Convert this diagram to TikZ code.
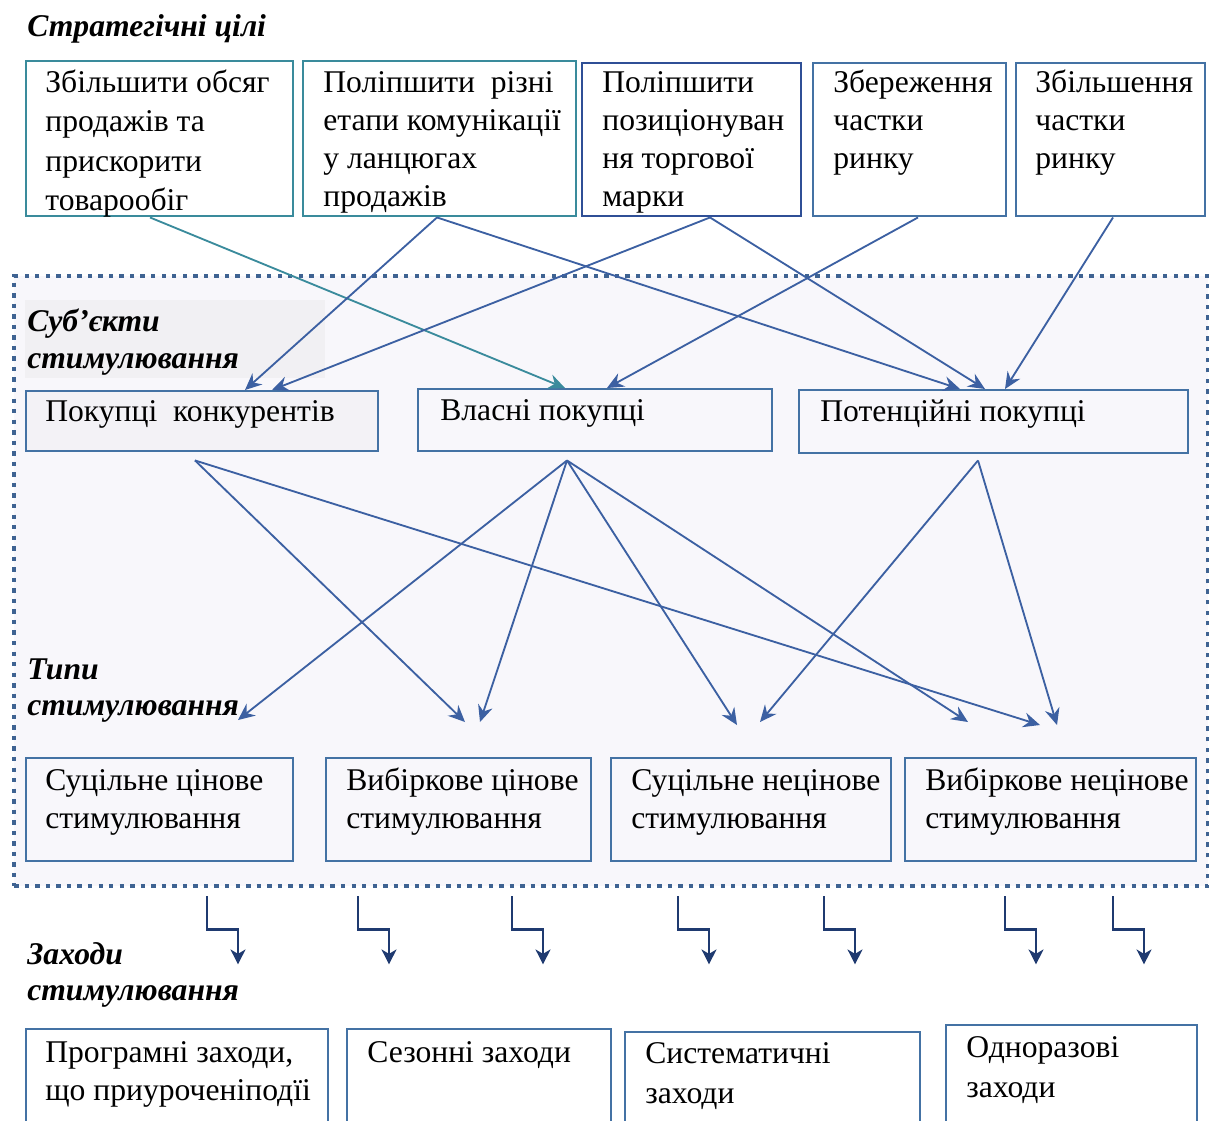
\documentclass[tikz,border=0pt]{standalone}
\usepackage{fontspec}
\setmainfont{Liberation Serif}
\usetikzlibrary{arrows.meta,calc}

\definecolor{tealline}{HTML}{3A8B9C}
\definecolor{darkline}{HTML}{2F4F96}
\definecolor{steelline}{HTML}{4472A4}
\definecolor{arrowblue}{HTML}{3C60A2}
\definecolor{navyline}{HTML}{1F3A70}
\definecolor{panelfill}{HTML}{F8F7FB}
\definecolor{dotline}{HTML}{3F6392}

\tikzset{
  box/.style={draw=steelline, line width=1.4pt, inner sep=0pt, anchor=north west},
  boxtext/.style={anchor=base west, align=left, inner sep=0pt},
  headtext/.style={anchor=base west, align=left, inner sep=0pt, font=\fontsize{18}{36pt}\selectfont\bfseries\itshape},
  link/.style={draw=arrowblue, line width=1.05pt, -{Stealth[length=9.5pt, width=8.5pt, inset=3.2pt]}},
  elbowlink/.style={draw=navyline, line width=1.3pt, -{Stealth[length=8.5pt, width=8.5pt, inset=2.5pt]}}
}

\begin{document}
\begin{tikzpicture}[x=0.02cm, y=-0.02cm, font=\fontsize{18}{21.5pt}\selectfont]
\useasboundingbox (0,0) rectangle (1209,1120);

% область стимулювання
\node[box, draw=dotline, fill=panelfill, line width=2.5pt, dash pattern=on 2.5pt off 3.5pt,
      minimum width=1194*0.02cm, minimum height=610*0.02cm] (zone) at (12,274) {};
\fill[fill=black!3!panelfill] (25,300) rectangle (325,378);

% стратегічні цілі
\node[headtext] (hgoal) at (27,36) {Стратегічні цілі};
\node[box, draw=tealline, minimum width=267*0.02cm, minimum height=155*0.02cm] (g1) at (25,60) {};
\node[box, draw=tealline, minimum width=273*0.02cm, minimum height=155*0.02cm] (g2) at (302,60) {};
\node[box, draw=darkline, minimum width=219*0.02cm, minimum height=153*0.02cm] (g3) at (581,62) {};
\node[box, minimum width=193*0.02cm, minimum height=153*0.02cm] (g4) at (812,62) {};
\node[box, minimum width=189*0.02cm, minimum height=153*0.02cm] (g5) at (1015,62) {};
% (base = остання лінія тексту)
\node[boxtext, font=\fontsize{18}{22.2pt}\selectfont] (g1t) at (45,210) {Збільшити обсяг\\продажів та\\прискорити\\товарообіг};
\node[boxtext] (g2t) at (323,206) {Поліпшити\ \ різні\\етапи комунікації\\у ланцюгах\\продажів};
\node[boxtext] (g3t) at (602,206) {Поліпшити\\позиціонуван\\ня торгової\\марки};
\node[boxtext] (g4t) at (833,168) {Збереження\\частки\\ринку};
\node[boxtext] (g5t) at (1035,168) {Збільшення\\частки\\ринку};

% суб'єкти стимулювання
\node[headtext, font=\fontsize{18}{20.5pt}\selectfont\bfseries\itshape] (hsubj) at (27,368) {Суб’єкти\\стимулювання};
\node[box, fill=black!2!panelfill, minimum width=352*0.02cm, minimum height=60*0.02cm] (s1) at (25,390) {};
\node[box, minimum width=354*0.02cm, minimum height=62*0.02cm] (s2) at (417,388) {};
\node[box, minimum width=389*0.02cm, minimum height=63*0.02cm] (s3) at (798,389) {};
\node[boxtext] (s1t) at (45,421) {Покупці\ \ конкурентів};
\node[boxtext] (s2t) at (440,420) {Власні покупці};
\node[boxtext] (s3t) at (820,421) {Потенційні покупці};

% типи стимулювання
\node[headtext, font=\fontsize{18}{20pt}\selectfont\bfseries\itshape] (htype) at (27,715) {Типи\\стимулювання};
\node[box, minimum width=267*0.02cm, minimum height=103*0.02cm] (t1) at (25,757) {};
\node[box, minimum width=265*0.02cm, minimum height=103*0.02cm] (t2) at (325,757) {};
\node[box, minimum width=280*0.02cm, minimum height=103*0.02cm] (t3) at (610,757) {};
\node[box, minimum width=291*0.02cm, minimum height=103*0.02cm] (t4) at (904,757) {};
\node[boxtext] (t1t) at (45,828) {Суцільне цінове\\стимулювання};
\node[boxtext] (t2t) at (346,828) {Вибіркове цінове\\стимулювання};
\node[boxtext] (t3t) at (631,828) {Суцільне нецінове\\стимулювання};
\node[boxtext] (t4t) at (925,828) {Вибіркове нецінове\\стимулювання};

% заходи стимулювання
\node[headtext, font=\fontsize{18}{20pt}\selectfont\bfseries\itshape] (hmeas) at (27,1000) {Заходи\\стимулювання};
\node[box, minimum width=302*0.02cm, minimum height=120*0.02cm] (b1) at (25,1028) {};
\node[box, minimum width=264*0.02cm, minimum height=120*0.02cm] (b2) at (346,1028) {};
\node[box, minimum width=295*0.02cm, minimum height=120*0.02cm] (b3) at (624,1031) {};
\node[box, minimum width=251*0.02cm, minimum height=120*0.02cm] (b4) at (945,1024) {};
\node[boxtext] (b1t) at (45,1100) {Програмні заходи,\\що приуроченіподїі};
\node[boxtext] (b2t) at (367,1062) {Сезонні заходи};
\node[boxtext, font=\fontsize{18}{22.5pt}\selectfont] (b3t) at (645,1103) {Систематичні\\заходи};
\node[boxtext, font=\fontsize{18}{22.5pt}\selectfont] (b4t) at (966,1097) {Одноразові\\заходи};

% зв'язки цілі -> суб'єкти
\draw[link, draw=tealline] ($(g1.south west)+(125,0)$) -- ($(s2.north west)+(148,0)$);
\draw[link] ($(g2.south west)+(135,0)$) -- ($(s1.north west)+(220,0)$);
\draw[link] ($(g2.south west)+(135,0)$) -- ($(s3.north west)+(162,0)$);
\draw[link] ($(g3.south west)+(129,0)$) -- ($(s1.north west)+(247,0)$);
\draw[link] ($(g3.south west)+(129,0)$) -- ($(s3.north west)+(187,0)$);
\draw[link] ($(g4.south west)+(106,0)$) -- ($(s2.north west)+(190,0)$);
\draw[link] ($(g5.south west)+(98,0)$) -- ($(s3.north west)+(207,0)$);

% зв'язки суб'єкти -> типи
\draw[link] ($(s1.south west)+(170,8)$) -- ($(t2.north west)+(140,-35)$);
\draw[link] ($(s1.south west)+(170,8)$) -- ($(t4.north west)+(136,-32)$);
\draw[link] ($(s2.south west)+(150,8)$) -- ($(t1.north west)+(213,-37)$);
\draw[link] ($(s2.south west)+(150,8)$) -- ($(t2.north west)+(155,-35)$);
\draw[link] ($(s2.south west)+(150,8)$) -- ($(t3.north west)+(127,-32)$);
\draw[link] ($(s2.south west)+(150,8)$) -- ($(t4.north west)+(64,-35)$);
\draw[link] ($(s3.south west)+(180,6)$) -- ($(t3.north west)+(150,-35)$);
\draw[link] ($(s3.south west)+(180,6)$) -- ($(t4.north west)+(153,-32)$);

% стрілки до заходів
\foreach \dx in {195, 346, 500, 666, 812, 993, 1101}
  \draw[elbowlink] ($(zone.south west)+(\dx,8)$) |- ++(31,33) -- ++(0,35);
\end{tikzpicture}
\end{document}
